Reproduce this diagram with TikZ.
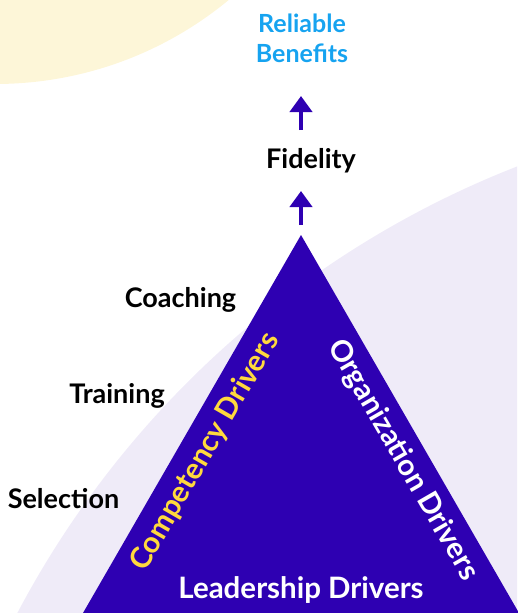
\documentclass[tikz,border=0pt]{standalone}
\usepackage{fontspec}
\setmainfont{Lato}
\usetikzlibrary{arrows.meta}
\definecolor{indigo}{HTML}{2E00B2}
\definecolor{lavender}{HTML}{EFEBF8}
\definecolor{paleyellow}{HTML}{FDF6D8}
\definecolor{skyblue}{HTML}{16A3F0}
\definecolor{goldtext}{HTML}{FFD93D}
\tikzset{
  lbl/.style={font=\fontsize{27}{30}\selectfont\bfseries, inner sep=0pt},
  toplbl/.style={font=\fontsize{25}{30}\selectfont\bfseries, inner sep=0pt},
  trilbl/.style={font=\fontsize{29.5}{32}\selectfont\bfseries, inner sep=0pt},
  uparrow/.style={draw=indigo, line width=4pt, -{Triangle[width=22pt,length=16pt]}},
}
\begin{document}
\begin{tikzpicture}[x=1pt,y=-1pt]
\useasboundingbox (0,0) rectangle (517,613);
\begin{scope}
\clip (0,0) rectangle (517,613);
\fill[paleyellow] (-5,-283) circle (367);
\fill[lavender] (866,1060) circle (959);
\end{scope}
% triangle
\coordinate (apex) at (301,235);
\coordinate (bl) at (83,613);
\coordinate (br) at (519,613);
\fill[indigo] (apex) -- (bl) -- (br) -- cycle;
% labels
\node[toplbl, text=skyblue, align=center] (rb) at (302,38) {Reliable\\Benefits};
\node[lbl, anchor=base] (fid) at (311,168) {Fidelity};
\node[lbl, anchor=base] (coach) at (180.5,307) {Coaching};
\node[lbl, anchor=base] (train) at (117,403) {Training};
\node[lbl, anchor=base] (sel) at (63.5,508) {Selection};
\node[trilbl, anchor=base, text=white] (lead) at (301,598) {Leadership Drivers};
\node[trilbl, text=goldtext, rotate=60] (comp) at (205,452) {Competency Drivers};
\node[trilbl, text=white, rotate=-60] (org) at (403,460) {Organization Drivers};
% arrows
\coordinate (a1s) at (301,130);
\coordinate (a1e) at (301,96);
\coordinate (a2s) at (301,225);
\coordinate (a2e) at (301,191);
\draw[uparrow] (a1s) -- (a1e);
\draw[uparrow] (a2s) -- (a2e);
\end{tikzpicture}
\end{document}
